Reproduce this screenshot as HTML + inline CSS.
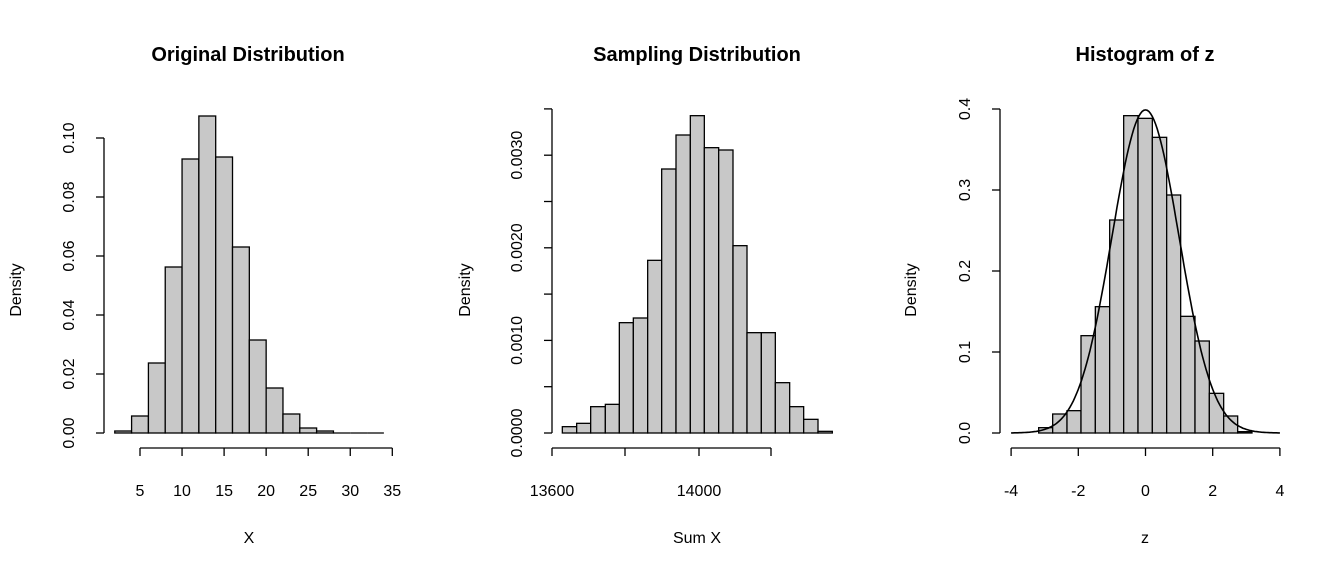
<!DOCTYPE html>
<html><head><meta charset="utf-8"><style>
body{margin:0;background:#fff}
svg text{font-family:"Liberation Sans",Arial,sans-serif;fill:#000}
</style></head><body>
<svg id="s" width="1344" height="576" xmlns="http://www.w3.org/2000/svg"></svg>
<script>
const s=document.getElementById('s');let h='';
function L(x1,y1,x2,y2){h+=`<line x1="${x1}" y1="${y1}" x2="${x2}" y2="${y2}" stroke="#000" stroke-width="1.3"/>`;}
function T(x,y,t,o={}){h+=`<text x="${x}" y="${y}" font-size="${o.fs||16}" text-anchor="middle" ${o.b?'font-weight="bold"':''} ${o.r?`transform="rotate(-90 ${x} ${y})"`:''}>${t}</text>`;}
function R(x1,x2,top,base){if(base-top<0.5){L(x1,base,x2,base);return;}h+=`<rect x="${x1}" y="${top}" width="${x2-x1}" height="${base-top}" fill="#c8c8c8" stroke="#000" stroke-width="1.3"/>`;}
const b=433;
// Panel 1
T(248,61,'Original Distribution',{fs:20,b:1});T(249,543,'X');T(21,290,'Density',{r:1});
L(104,138,104,433);
[[0,'0.00'],[0.02,'0.02'],[0.04,'0.04'],[0.06,'0.06'],[0.08,'0.08'],[0.10,'0.10']].forEach(([v,l])=>{let y=433-v*2950;L(96,y,104,y);T(74,y,l,{r:1});});
const x1=v=>140+(v-5)*8.41;
L(x1(5),448,x1(35),448);
[5,10,15,20,25,30,35].forEach(v=>{L(x1(v),448,x1(v),456);T(x1(v),496,v);});
const t1=[431,416,363,267,159,116,157,247,340,388,414,428,431,433,433,433];
t1.forEach((t,i)=>R(x1(2+2*i),x1(4+2*i),t,b));
// Panel 2
T(697,61,'Sampling Distribution',{fs:20,b:1});T(697,543,'Sum X');T(470,290,'Density',{r:1});
L(552,109,552,433);
for(let i=0;i<=7;i++){let y=433-i*46.3;L(544,y,552,y);if(i%2==0)T(522,y,['0.0000','0.0010','0.0020','0.0030'][i/2],{r:1});}
L(552,448,771,448);
[[552,'13600'],[625,''],[699,'14000'],[771,'']].forEach(([x,l])=>{L(x,448,x,456);if(l)T(x,496,l);});
const e2=[127,170,212,256,298,340,383,425,468,511,553,596,639,681,724,766,809,851,894,937];
const t2=[980,970,920,913,668,654,481,207,105,47,143,150,437,698,698,848,920,958,994];
t2.forEach((t,i)=>R(520+e2[i]/3,520+e2[i+1]/3,100+t/3,b));
// Panel 3
T(1145,61,'Histogram of z',{fs:20,b:1});T(1145,543,'z');T(916,290,'Density',{r:1});
L(1000,109,1000,433);
[0,0.1,0.2,0.3,0.4].forEach(v=>{let y=433-v*810;L(992,y,1000,y);T(970,y,v.toFixed(1),{r:1});});
const x3=v=>1145.5+v*33.6;
L(x3(-4),448,x3(4),448);
[-4,-2,0,2,4].forEach(v=>{L(x3(v),448,x3(v),456);T(x3(v),496,v);});
const e3=[236,278,321,363,406,449,491,534,577,620,662,705,748,791,833,876];
const t3=[983,942,932,707,620,360,47,55,112,285,649,723,880,948,995];
t3.forEach((t,i)=>R(960+e3[i]/3,960+e3[i+1]/3,100+t/3,b));
let p='';for(let z=-4;z<=4.001;z+=0.05){let y=433-810*Math.exp(-z*z/2)/Math.sqrt(2*Math.PI);p+=(p?'L':'M')+x3(z).toFixed(1)+' '+y.toFixed(1);}
h+=`<path d="${p}" fill="none" stroke="#000" stroke-width="1.6"/>`;
s.innerHTML=h;
</script>
</body></html>
